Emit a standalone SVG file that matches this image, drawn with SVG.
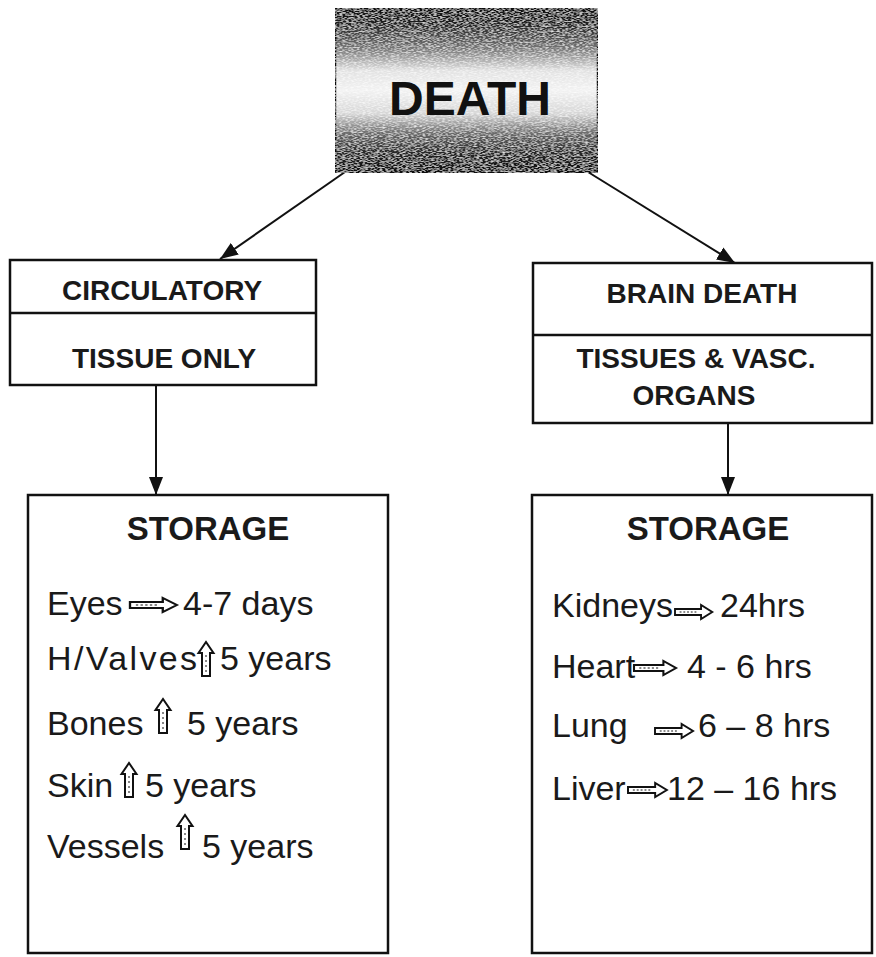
<svg xmlns="http://www.w3.org/2000/svg" xmlns:xlink="http://www.w3.org/1999/xlink" width="876" height="957" viewBox="0 0 876 957">
<style>
.box{fill:#fff;stroke:#111;stroke-width:2.5}
.hd{font-family:"Liberation Sans",Arial,sans-serif;font-weight:bold;font-size:28px;fill:#1a1a1a;text-anchor:middle}
.st{font-family:"Liberation Sans",Arial,sans-serif;font-weight:bold;font-size:33px;fill:#1a1a1a;text-anchor:middle}
.it{font-family:"Liberation Sans",Arial,sans-serif;font-size:34px;fill:#1a1a1a}
.conn{stroke:#111;stroke-width:2;fill:none}
.sym{fill:#fff;stroke:#111;stroke-width:2}
</style>
<defs>
<linearGradient id="dg" x1="0" y1="0" x2="0" y2="1">
<stop offset="0" stop-color="#0d0d0d"/>
<stop offset="0.1" stop-color="#222"/>
<stop offset="0.25" stop-color="#7a7a7a"/>
<stop offset="0.38" stop-color="#e2e2e2"/>
<stop offset="0.5" stop-color="#f2f2f2"/>
<stop offset="0.64" stop-color="#d6d6d6"/>
<stop offset="0.76" stop-color="#6a6a6a"/>
<stop offset="0.88" stop-color="#262626"/>
<stop offset="1" stop-color="#0d0d0d"/>
</linearGradient>
<filter id="grain" x="0" y="0" width="1" height="1">
<feTurbulence type="fractalNoise" baseFrequency="0.35 1.2" numOctaves="1" seed="3" result="n"/>
<feColorMatrix in="n" type="matrix" values="0 0 0 0 1  0 0 0 0 1  0 0 0 0 1  0 0 0 1.8 -0.75" result="w"/>
<feComposite in="w" in2="SourceGraphic" operator="in" result="wm"/>
<feMerge><feMergeNode in="SourceGraphic"/><feMergeNode in="wm"/></feMerge>
</filter>
<marker id="ah" markerUnits="userSpaceOnUse" markerWidth="20" markerHeight="16" refX="18" refY="8" orient="auto">
<path d="M0,1 L18,8 L0,15 Z" fill="#111"/>
</marker>
<g id="ra"><path class="sym" d="M0,-3 H28 V-7 L40,0 L28,7 V3 H0 Z"/><path d="M5,0 H24" stroke="#111" stroke-width="1" stroke-dasharray="2 2"/></g>
<g id="ua"><path class="sym" d="M-4,34 V11 H-7.5 L0,0 L7.5,11 H4 V34 Z"/><path d="M0,13 V31" stroke="#111" stroke-width="1" stroke-dasharray="2 3"/></g>
</defs>
<rect width="876" height="957" fill="#fff"/>

<g id="connectors">
<line class="conn" x1="345" y1="172" x2="220" y2="259" marker-end="url(#ah)"/>
<line class="conn" x1="588" y1="172" x2="735" y2="263" marker-end="url(#ah)"/>
<line class="conn" x1="156" y1="385" x2="156" y2="495" marker-end="url(#ah)"/>
<line class="conn" x1="728" y1="423" x2="728" y2="495" marker-end="url(#ah)"/>
</g>

<g id="death">
<rect x="335" y="8" width="263" height="165" fill="url(#dg)" stroke="#111" stroke-width="2.5" filter="url(#grain)"/>
<text x="470" y="115" style="font-family:'Liberation Sans',Arial,sans-serif;font-weight:bold;font-size:48px;fill:#111;text-anchor:middle">DEATH</text>
</g>

<g id="circulatory">
<rect class="box" x="10" y="260" width="306" height="125"/>
<line x1="10" y1="313" x2="316" y2="313" stroke="#111" stroke-width="2.5"/>
<text class="hd" x="162" y="300">CIRCULATORY</text>
<text class="hd" x="164" y="368">TISSUE ONLY</text>
</g>

<g id="brain">
<rect class="box" x="533" y="263" width="339" height="160"/>
<line x1="533" y1="335" x2="872" y2="335" stroke="#111" stroke-width="2.5"/>
<text class="hd" x="702" y="303">BRAIN DEATH</text>
<text class="hd" x="696" y="368">TISSUES &amp; VASC.</text>
<text class="hd" x="694" y="405">ORGANS</text>
</g>

<g id="storage-left">
<rect class="box" x="28" y="495" width="360" height="458"/>
<text class="st" x="208" y="540">STORAGE</text>
<text class="it" y="615"><tspan x="47">Eyes</tspan><tspan x="183">4-7 days</tspan></text>
<use xlink:href="#ra" transform="translate(130,605) scale(1.17,1)"/>
<text class="it" y="670"><tspan x="47" textLength="150" lengthAdjust="spacing">H/Valves</tspan><tspan x="220">5 years</tspan></text>
<use xlink:href="#ua" transform="translate(206,642)"/>
<text class="it" y="735"><tspan x="47">Bones</tspan><tspan x="187">5 years</tspan></text>
<use xlink:href="#ua" transform="translate(163,699)"/>
<text class="it" y="797"><tspan x="47">Skin</tspan><tspan x="145">5 years</tspan></text>
<use xlink:href="#ua" transform="translate(129,763)"/>
<text class="it" y="858"><tspan x="47">Vessels</tspan><tspan x="202">5 years</tspan></text>
<use xlink:href="#ua" transform="translate(185,815)"/>
</g>

<g id="storage-right">
<rect class="box" x="532" y="495" width="340" height="458"/>
<text class="st" x="708" y="540">STORAGE</text>
<text class="it" y="617"><tspan x="552">Kidneys</tspan><tspan x="720">24hrs</tspan></text>
<use xlink:href="#ra" transform="translate(675,612) scale(0.93,1)"/>
<text class="it" y="678"><tspan x="552">Heart</tspan><tspan x="687">4 - 6 hrs</tspan></text>
<use xlink:href="#ra" transform="translate(634,668) scale(1.05,1)"/>
<text class="it" y="737"><tspan x="552">Lung</tspan><tspan x="698">6 – 8 hrs</tspan></text>
<use xlink:href="#ra" transform="translate(655,731) scale(0.95,1)"/>
<text class="it" y="800"><tspan x="552">Liver</tspan><tspan x="667">12 – 16 hrs</tspan></text>
<use xlink:href="#ra" transform="translate(628,790) scale(0.97,1)"/>
</g>
</svg>
